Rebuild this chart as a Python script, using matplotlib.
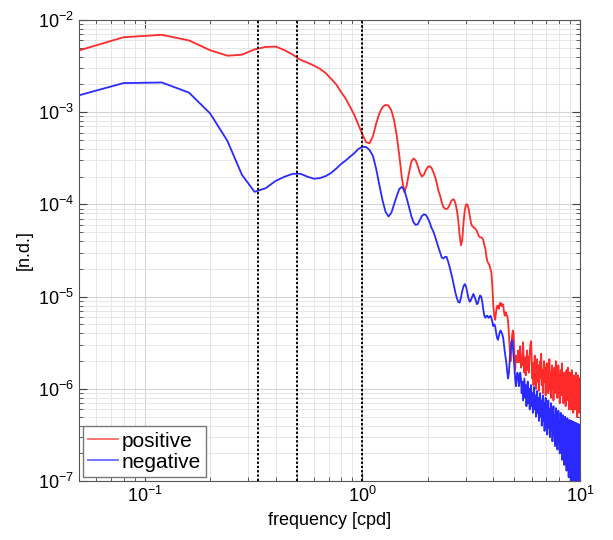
import numpy as np
import matplotlib
matplotlib.use("Agg")
import matplotlib.pyplot as plt

plt.rcParams['font.family'] = ['Liberation Sans', 'DejaVu Sans']

# spectral estimates, frequency step 0.04 cpd (first point at 0.04 cpd)
df = 0.04

positive = [
    # 0.04 - 0.40
    4.0e-3, 6.5e-3, 6.9e-3, 6.0e-3, 4.7e-3, 4.1e-3, 4.2e-3, 4.8e-3, 5.1e-3, 5.15e-3,
    # 0.44 - 0.80
    4.7e-3, 4.2e-3, 3.7e-3, 3.45e-3, 3.2e-3, 2.95e-3, 2.65e-3, 2.3e-3, 2.0e-3, 1.65e-3,
    # 0.84 - 1.20
    1.4e-3, 1.14e-3, 9.3e-4, 7.3e-4, 5.8e-4, 4.75e-4, 4.6e-4, 5.5e-4, 7.6e-4, 9.8e-4,
    # 1.24 - 1.60
    1.14e-3, 1.2e-3, 1.18e-3, 1.05e-3, 8.2e-4, 5.6e-4, 3.4e-4, 1.95e-4, 1.36e-4, 1.6e-4,
    # 1.64 - 2.00
    2.2e-4, 2.9e-4, 3.15e-4, 3.0e-4, 2.6e-4, 2.2e-4, 2.0e-4, 2.1e-4, 2.35e-4, 2.55e-4,
    # 2.04 - 2.40
    2.6e-4, 2.5e-4, 2.25e-4, 2.0e-4, 1.7e-4, 1.4e-4, 1.24e-4, 1.05e-4, 9.4e-5, 9.0e-5,
    # 2.44 - 2.80
    8.9e-5, 9.2e-5, 9.9e-5, 1.08e-4, 1.13e-4, 1.13e-4, 1.03e-4, 8.7e-5, 6.8e-5, 4.7e-5,
    # 2.84 - 3.20
    3.6e-5, 4.1e-5, 6.4e-5, 8.7e-5, 1.0e-4, 1.0e-4, 9.0e-5, 7.5e-5, 6.3e-5, 5.8e-5,
    # 3.24 - 3.60
    5.7e-5, 5.55e-5, 5.4e-5, 5.15e-5, 4.8e-5, 4.5e-5, 4.4e-5, 4.4e-5, 4.3e-5, 4.1e-5,
    # 3.64 - 4.00
    3.6e-5, 3.3e-5, 2.7e-5, 2.4e-5, 2.3e-5, 2.2e-5, 2.0e-5, 1.85e-5, 1.3e-5, 8.0e-6,
    # 4.04 - 4.40
    6.2e-6, 5.6e-6, 6.8e-6, 7.9e-6, 8.0e-6, 7.4e-6, 8.3e-6, 8.6e-6, 7.9e-6, 8.3e-6,
    # 4.44 - 4.80
    8.2e-6, 6.8e-6, 6.2e-6, 6.8e-6, 6.3e-6, 6.2e-6, 5.3e-6, 3.9e-6, 2.7e-6, 2.0e-6,
    # 4.84 - 5.20
    2.6e-6, 3.8e-6, 4.3e-6, 4.0e-6, 2.3e-6, 1.6e-6, 2.3e-6, 2.2e-6, 1.95e-6, 2.6e-6,
    # 5.24 - 5.60
    1.95e-6, 2.3e-6, 2.9e-6, 1.7e-6, 2.3e-6, 1.8e-6, 3.2e-6, 2.0e-6, 1.5e-6, 2.2e-6,
    # 5.64 - 6.00
    1.4e-6, 2.0e-6, 2.6e-6, 1.6e-6, 2.2e-6, 1.5e-6, 2.4e-6, 3.0e-6, 3.3e-6, 2.2e-6,
    # 6.04 - 6.40
    1.3e-6, 1.9e-6, 1.1e-6, 1.6e-6, 2.3e-6, 1.4e-6, 1.0e-6, 1.7e-6, 2.1e-6, 1.2e-6,
    # 6.44 - 6.80
    1.8e-6, 0.95e-6, 1.5e-6, 2.0e-6, 1.3e-6, 2.4e-6, 1.1e-6, 1.6e-6, 0.9e-6, 1.4e-6,
    # 6.84 - 7.20
    2.0e-6, 1.2e-6, 1.7e-6, 0.85e-6, 1.5e-6, 1.9e-6, 1.1e-6, 1.6e-6, 0.9e-6, 1.4e-6,
    # 7.24 - 7.60
    2.1e-6, 1.0e-6, 1.5e-6, 0.8e-6, 1.3e-6, 1.8e-6, 1.0e-6, 1.6e-6, 0.75e-6, 1.2e-6,
    # 7.64 - 8.00
    1.7e-6, 0.9e-6, 1.4e-6, 2.0e-6, 1.0e-6, 1.5e-6, 0.8e-6, 1.2e-6, 1.8e-6, 0.9e-6,
    # 8.04 - 8.40
    1.4e-6, 0.7e-6, 1.2e-6, 1.6e-6, 0.85e-6, 1.3e-6, 1.9e-6, 0.9e-6, 1.4e-6, 0.7e-6,
    # 8.44 - 8.80
    1.1e-6, 1.5e-6, 0.8e-6, 1.3e-6, 0.65e-6, 1.1e-6, 1.6e-6, 0.8e-6, 1.2e-6, 1.7e-6,
    # 8.84 - 9.20
    0.75e-6, 1.3e-6, 0.6e-6, 1.0e-6, 1.5e-6, 0.8e-6, 1.2e-6, 0.6e-6, 1.1e-6, 1.6e-6,
    # 9.24 - 9.60
    0.7e-6, 1.2e-6, 0.55e-6, 1.0e-6, 1.4e-6, 0.75e-6, 1.3e-6, 0.6e-6, 1.0e-6, 1.5e-6,
    # 9.64 - 10.00
    0.7e-6, 1.1e-6, 0.5e-6, 0.9e-6, 1.4e-6, 0.7e-6, 1.2e-6, 0.55e-6, 1.0e-6, 1.3e-6,
]

negative = [
    # 0.04 - 0.40
    1.32e-3, 2.07e-3, 2.1e-3, 1.63e-3, 9.7e-4, 4.9e-4, 2.1e-4, 1.37e-4, 1.5e-4, 1.8e-4,
    # 0.44 - 0.80
    2.0e-4, 2.15e-4, 2.15e-4, 2.0e-4, 1.9e-4, 1.93e-4, 2.03e-4, 2.2e-4, 2.45e-4, 2.75e-4,
    # 0.84 - 1.20
    3.0e-4, 3.3e-4, 3.6e-4, 4.0e-4, 4.2e-4, 4.2e-4, 3.9e-4, 3.35e-4, 2.4e-4, 1.6e-4,
    # 1.24 - 1.60
    1.1e-4, 8.3e-5, 7.4e-5, 8.1e-5, 1.0e-4, 1.23e-4, 1.47e-4, 1.55e-4, 1.44e-4, 1.17e-4,
    # 1.64 - 2.00
    9.4e-5, 7.5e-5, 6.4e-5, 6.0e-5, 6.1e-5, 6.8e-5, 7.5e-5, 7.8e-5, 7.7e-5, 7.1e-5,
    # 2.04 - 2.40
    6.4e-5, 5.6e-5, 5.1e-5, 4.5e-5, 3.9e-5, 3.4e-5, 3.0e-5, 2.65e-5, 2.6e-5, 2.7e-5,
    # 2.44 - 2.80
    2.7e-5, 2.4e-5, 2.1e-5, 1.8e-5, 1.55e-5, 1.3e-5, 1.1e-5, 9.7e-6, 8.8e-6, 8.6e-6,
    # 2.84 - 3.20
    9.7e-6, 1.15e-5, 1.3e-5, 1.37e-5, 1.28e-5, 1.1e-5, 9.5e-6, 8.8e-6, 9.2e-6, 1.0e-5,
    # 3.24 - 3.60
    1.07e-5, 1.0e-5, 9.2e-6, 8.3e-6, 8.5e-6, 9.6e-6, 1.03e-5, 1.0e-5, 8.8e-6, 7.2e-6,
    # 3.64 - 4.00
    6.2e-6, 5.9e-6, 6.2e-6, 6.2e-6, 5.9e-6, 6.0e-6, 6.2e-6, 5.9e-6, 5.3e-6, 4.8e-6,
    # 4.04 - 4.40
    5.0e-6, 4.8e-6, 4.1e-6, 3.6e-6, 3.4e-6, 3.7e-6, 4.1e-6, 4.3e-6, 4.1e-6, 3.9e-6,
    # 4.44 - 4.80
    3.6e-6, 3.0e-6, 2.5e-6, 2.15e-6, 1.85e-6, 1.5e-6, 1.3e-6, 1.5e-6, 2.05e-6, 2.6e-6,
    # 4.84 - 5.20
    3.2e-6, 3.4e-6, 2.9e-6, 2.25e-6, 1.75e-6, 1.3e-6, 1.07e-6, 1.3e-6, 1.5e-6, 1.4e-6,
    # 5.24 - 5.60
    1.07e-6, 1.25e-6, 1.5e-6, 1.3e-6, 0.9e-6, 1.2e-6, 0.75e-6, 1.0e-6, 1.3e-6, 0.8e-6,
    # 5.64 - 6.00
    1.1e-6, 0.65e-6, 0.95e-6, 1.2e-6, 0.7e-6, 1.0e-6, 0.6e-6, 0.9e-6, 1.1e-6, 0.65e-6,
    # 6.04 - 6.40
    0.9e-6, 0.55e-6, 0.85e-6, 1.05e-6, 0.6e-6, 0.85e-6, 0.5e-6, 0.75e-6, 0.95e-6, 0.55e-6,
    # 6.44 - 6.80
    0.8e-6, 0.45e-6, 0.7e-6, 0.9e-6, 0.5e-6, 0.75e-6, 0.4e-6, 0.65e-6, 0.85e-6, 0.45e-6,
    # 6.84 - 7.20
    0.7e-6, 0.35e-6, 0.6e-6, 0.8e-6, 0.4e-6, 0.65e-6, 0.32e-6, 0.55e-6, 0.75e-6, 0.38e-6,
    # 7.24 - 7.60
    0.6e-6, 0.3e-6, 0.5e-6, 0.7e-6, 0.35e-6, 0.55e-6, 0.27e-6, 0.48e-6, 0.65e-6, 0.32e-6,
    # 7.64 - 8.00
    0.52e-6, 0.24e-6, 0.45e-6, 0.62e-6, 0.3e-6, 0.5e-6, 0.22e-6, 0.42e-6, 0.58e-6, 0.26e-6,
    # 8.04 - 8.40
    0.46e-6, 0.2e-6, 0.4e-6, 0.55e-6, 0.24e-6, 0.43e-6, 0.17e-6, 0.38e-6, 0.52e-6, 0.22e-6,
    # 8.44 - 8.80
    0.4e-6, 0.15e-6, 0.35e-6, 0.5e-6, 0.2e-6, 0.38e-6, 0.13e-6, 0.33e-6, 0.48e-6, 0.18e-6,
    # 8.84 - 9.20
    0.36e-6, 0.11e-6, 0.31e-6, 0.46e-6, 0.16e-6, 0.34e-6, 0.09e-6, 0.3e-6, 0.45e-6, 0.15e-6,
    # 9.24 - 9.60
    0.32e-6, 0.085e-6, 0.28e-6, 0.44e-6, 0.14e-6, 0.31e-6, 0.08e-6, 0.27e-6, 0.43e-6, 0.13e-6,
    # 9.64 - 10.00
    0.3e-6, 0.075e-6, 0.26e-6, 0.42e-6, 0.12e-6, 0.29e-6, 0.08e-6, 0.25e-6, 0.41e-6, 0.15e-6,
]

freq_pos = df * np.arange(1, len(positive) + 1)
freq_neg = df * np.arange(1, len(negative) + 1)

# periodes marquees (8h, 12h, 24h)
marked_freqs = [1 / 3, 0.5, 1.0]

fig = plt.figure(figsize=(6.13, 5.40), dpi=100)
ax = fig.add_axes([0.129, 0.109, 0.817, 0.854])

ax.plot(freq_pos, positive, color="#ff2a2a", lw=1.3, label="positive")
ax.plot(freq_neg, negative, color="#2a2aff", lw=1.3, label="negative")

for f in marked_freqs:
    ax.axvline(f, color="black", ls=(0, (1.2, 1.0)), lw=1.4, zorder=3)

ax.set_xscale("log")
ax.set_yscale("log")
ax.set_xlim(0.05, 10)
ax.set_ylim(1e-7, 1e-2)

ax.grid(True, which="major", color="#d4d4d4", lw=0.8)
ax.grid(True, which="minor", color="#e6e6e6", lw=0.7)
ax.set_axisbelow(True)

ax.tick_params(which="both", direction="in", top=True, right=True,
               labelsize=13, colors="#444444", labelcolor="black")
ax.tick_params(which="major", length=6)
ax.tick_params(which="minor", length=3)
for s in ax.spines.values():
    s.set_color("#555555")

ax.set_xlabel("frequency [cpd]", fontsize=13)
ax.set_ylabel("[n.d.]", fontsize=13)

leg = ax.legend(loc="lower left", fontsize=15, handlelength=1.4, handletextpad=0.2,
                borderpad=0.25, labelspacing=0.1, fancybox=False, framealpha=1,
                borderaxespad=0.2)
leg.get_frame().set_edgecolor("#777777")
for line in leg.get_lines():
    line.set_alpha(0.7)

fig.savefig("out.png", dpi=100)
